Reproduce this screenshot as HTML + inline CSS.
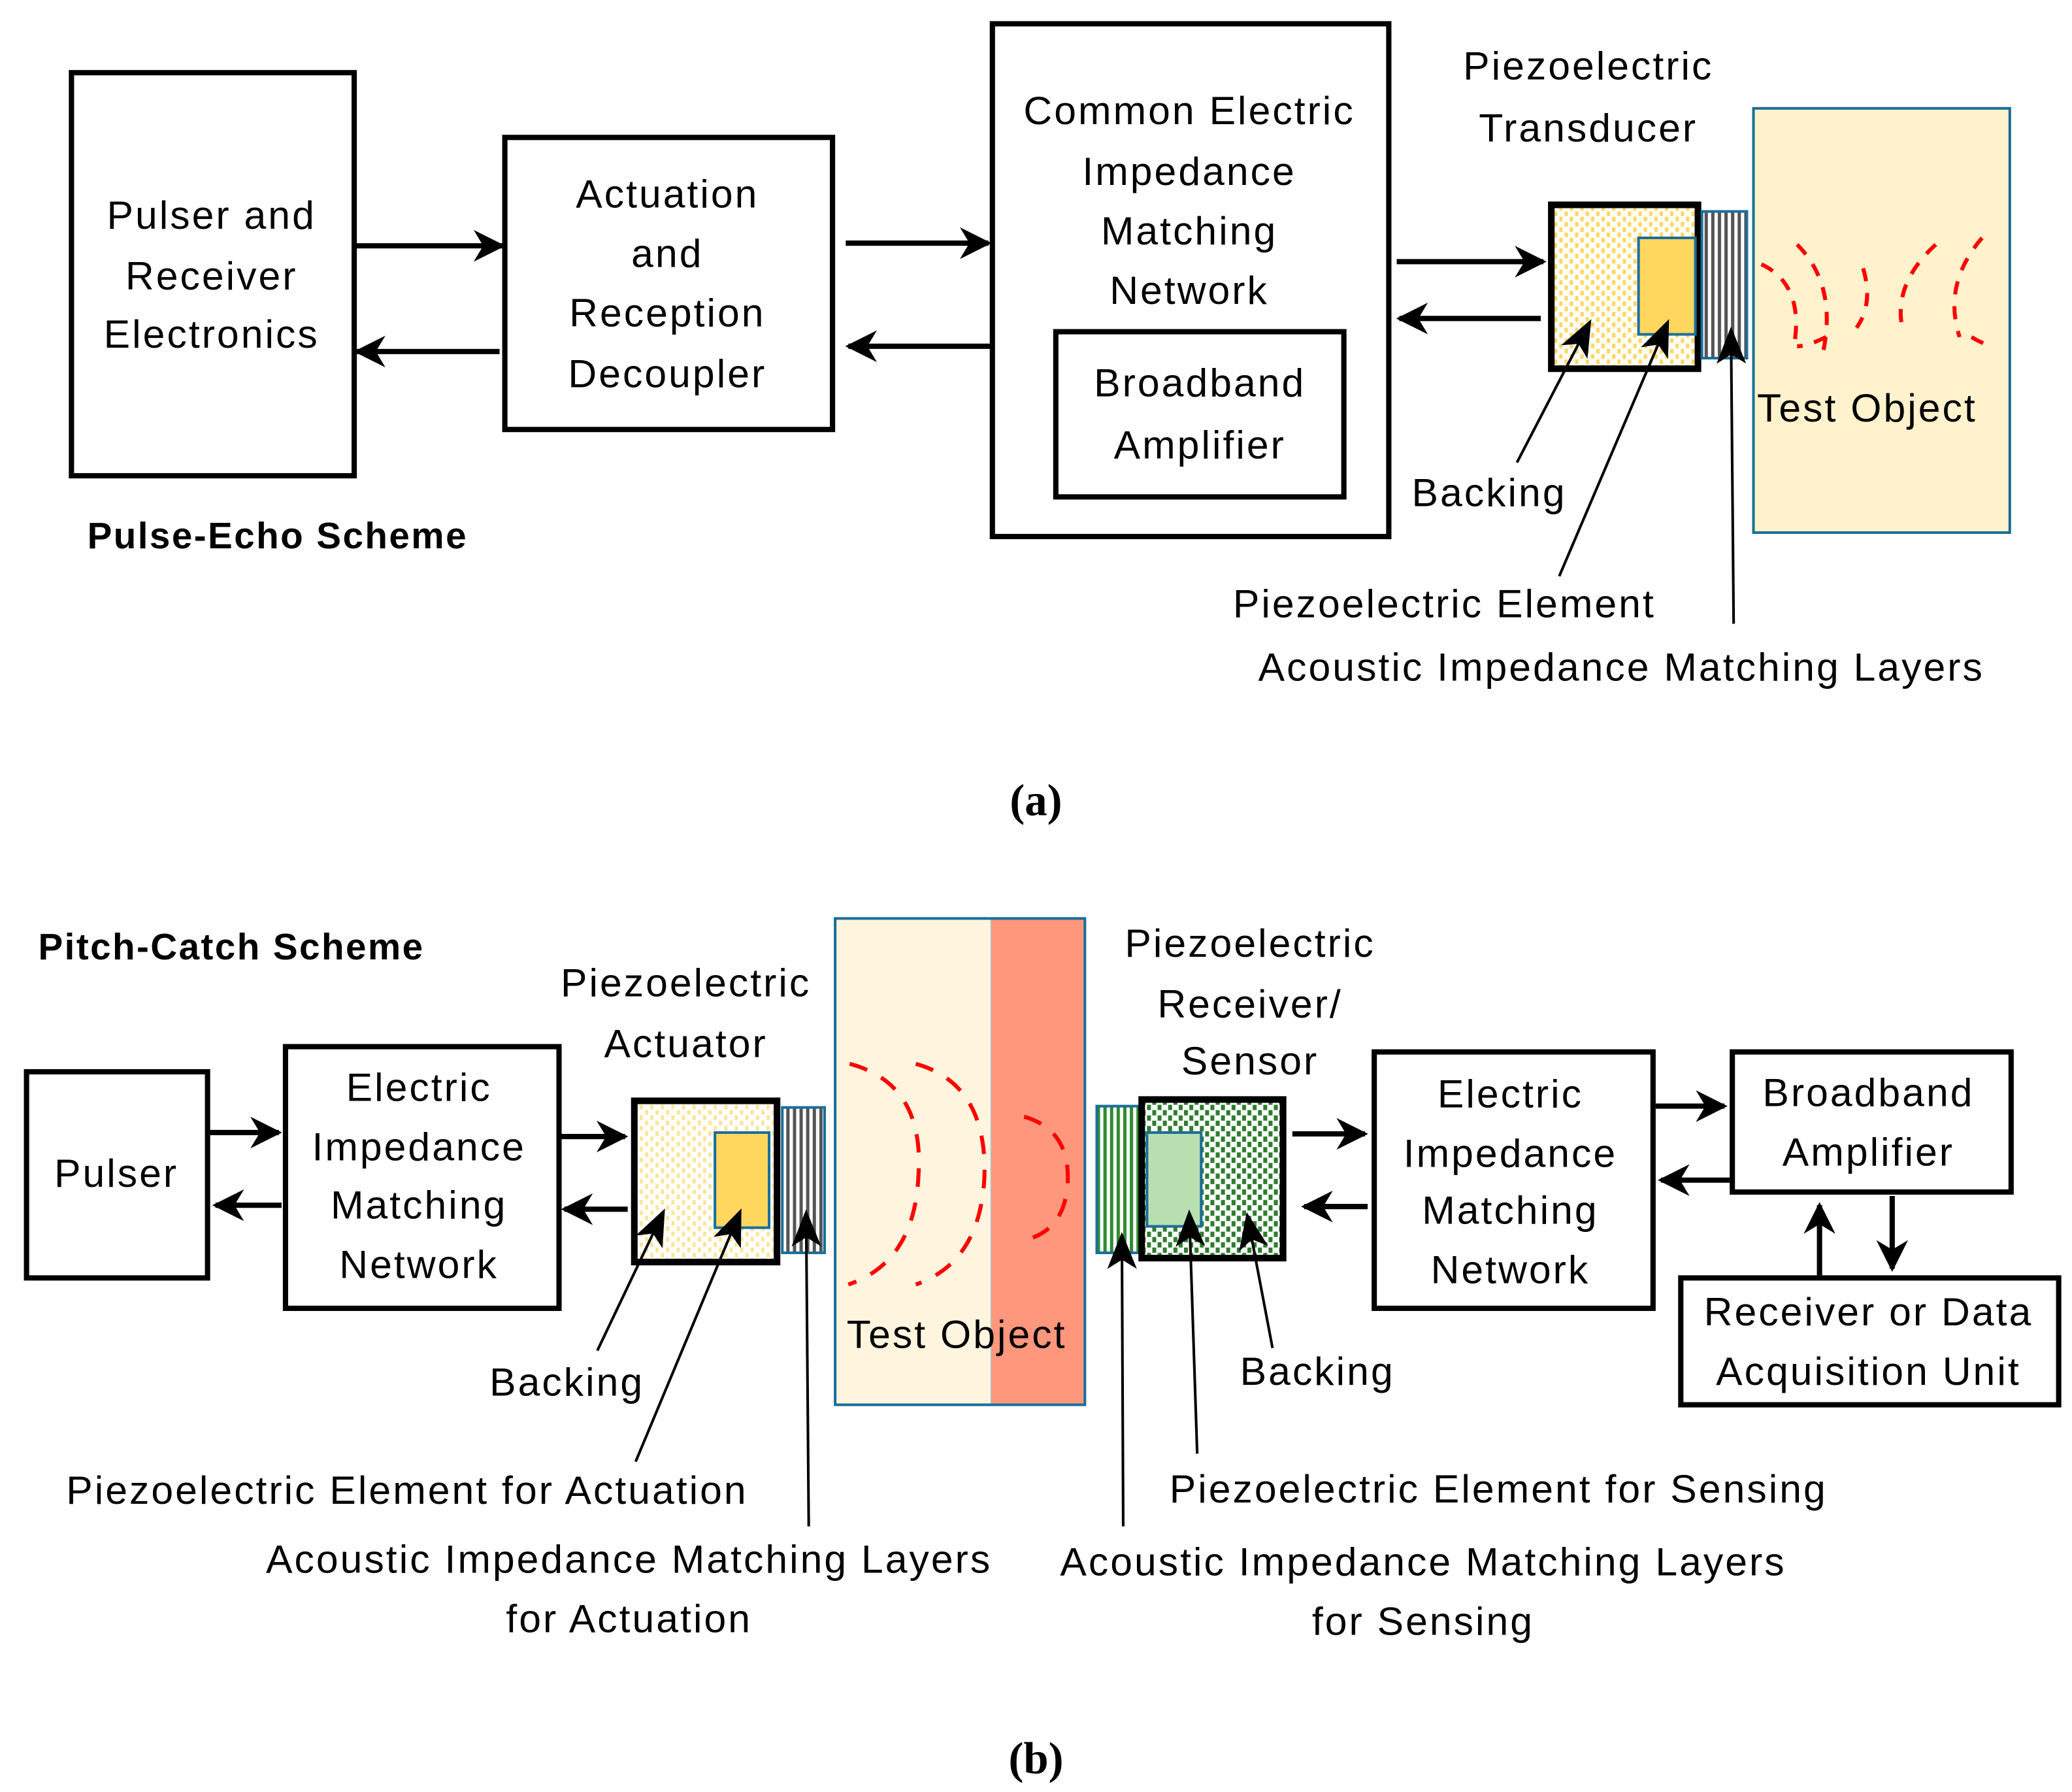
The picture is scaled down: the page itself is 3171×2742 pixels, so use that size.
<!DOCTYPE html>
<html><head><meta charset="utf-8"><style>
html,body{margin:0;padding:0;background:#fff}
svg{display:block}
text{font-family:"Liberation Sans",sans-serif;font-size:30px;letter-spacing:1.5px;fill:#000;text-anchor:middle}
.b{font-weight:bold;font-size:28px;letter-spacing:1.2px}
.s{font-family:"Liberation Serif",serif;font-weight:bold;font-size:34px;letter-spacing:0}
</style></head><body>
<svg width="3171" height="2742" viewBox="0 0 1568 1356" xmlns="http://www.w3.org/2000/svg">
<defs>
<marker id="ah" viewBox="0 0 20 20" refX="18" refY="10" markerWidth="6" markerHeight="6" markerUnits="strokeWidth" orient="auto">
<path d="M0,0 L20,10 L0,20 L6,10 z" fill="#000"/></marker>
<marker id="at" viewBox="0 0 20 20" refX="18" refY="10" markerWidth="14" markerHeight="14" markerUnits="strokeWidth" orient="auto">
<path d="M0,2 L20,10 L0,18 L5,10 z" fill="#000"/></marker>
<pattern id="yd" width="8" height="8" patternUnits="userSpaceOnUse">
<rect width="8" height="8" fill="#fff"/><rect x="0" y="0" width="2.5" height="3.5" fill="#FFD75E"/><rect x="4" y="4" width="2.5" height="3.5" fill="#FFD75E"/></pattern>
<pattern id="yd2" width="8" height="8" patternUnits="userSpaceOnUse">
<rect width="8" height="8" fill="#fff"/><rect x="0" y="0" width="2.5" height="3.5" fill="#FFE49A"/><rect x="4" y="4" width="2.5" height="3.5" fill="#FFE49A"/></pattern>
<pattern id="gd" width="8" height="8" patternUnits="userSpaceOnUse">
<rect width="8" height="8" fill="#fff"/><rect x="0" y="0" width="3" height="4" fill="#2E7D2E"/><rect x="4" y="4" width="3" height="4" fill="#2E7D2E"/></pattern>
<pattern id="gs" width="5" height="5" patternUnits="userSpaceOnUse">
<rect width="5" height="5" fill="#fff"/><rect width="2.5" height="5" fill="#555"/></pattern>
<pattern id="gg" width="5" height="5" patternUnits="userSpaceOnUse">
<rect width="5" height="5" fill="#fff"/><rect width="2.5" height="5" fill="#2E8B2E"/></pattern>
</defs>

<!-- (a) -->
<rect x="54" y="55" width="214" height="305" fill="none" stroke="#000" stroke-width="4"/>
<text x="160" y="173">Pulser and</text><text x="160" y="219">Receiver</text><text x="160" y="263">Electronics</text>
<g stroke="#000" stroke-width="4" fill="none">
<line x1="268" y1="186" x2="380" y2="186" marker-end="url(#ah)"/>
<line x1="378" y1="266" x2="270" y2="266" marker-end="url(#ah)"/>
<line x1="640" y1="184" x2="748" y2="184" marker-end="url(#ah)"/>
<line x1="750" y1="262" x2="642" y2="262" marker-end="url(#ah)"/>
<line x1="1057" y1="198" x2="1168" y2="198" marker-end="url(#ah)"/>
<line x1="1166" y1="241" x2="1059" y2="241" marker-end="url(#ah)"/>
</g>
<rect x="382" y="104" width="248" height="221" fill="none" stroke="#000" stroke-width="4"/>
<text x="505" y="157">Actuation</text><text x="505" y="202">and</text><text x="505" y="247">Reception</text><text x="505" y="293">Decoupler</text>
<rect x="751" y="18" width="300" height="388" fill="none" stroke="#000" stroke-width="4"/>
<text x="900" y="94">Common Electric</text><text x="900" y="140">Impedance</text><text x="900" y="185">Matching</text><text x="900" y="230">Network</text>
<rect x="799" y="251" width="218" height="125" fill="none" stroke="#000" stroke-width="4"/>
<text x="908" y="300">Broadband</text><text x="908" y="347">Amplifier</text>

<text x="1202" y="60">Piezoelectric</text><text x="1202" y="107">Transducer</text>
<rect x="1327" y="82" width="194" height="321" fill="#FFF2CC" stroke="#1a6e99" stroke-width="2"/>
<rect x="1174" y="155" width="111" height="124" fill="url(#yd)" stroke="#000" stroke-width="5"/>
<rect x="1240" y="180" width="43" height="73" fill="#FFD75E" stroke="#1a6e99" stroke-width="2"/>
<rect x="1288" y="160" width="34" height="111" fill="url(#gs)" stroke="#1a6e99" stroke-width="2"/>
<g fill="none" stroke="#f00" stroke-width="3" stroke-dasharray="10,9">
<path d="M1333,200 Q1365,215 1358,260"/>
<path d="M1360,185 Q1390,215 1380,265"/>
<path d="M1410,203 Q1418,230 1405,248"/>
<path d="M1465,185 Q1432,215 1440,250"/>
<path d="M1500,180 Q1470,215 1483,255"/>
<path d="M1382,255 Q1368,262 1360,262"/>
<path d="M1492,255 Q1500,260 1508,262"/>
</g>
<text x="1413" y="319">Test Object</text>
<g stroke="#000" stroke-width="2" fill="none">
<line x1="1148" y1="350" x2="1203" y2="244" marker-end="url(#at)"/>
<line x1="1180" y1="436" x2="1262" y2="244" marker-end="url(#at)"/>
<line x1="1312" y1="472" x2="1310" y2="250" marker-end="url(#at)"/>
</g>
<text x="1127" y="383">Backing</text>
<text x="1093" y="467">Piezoelectric Element</text>
<text x="1227" y="515">Acoustic Impedance Matching Layers</text>
<text x="210" y="415" class="b">Pulse-Echo Scheme</text>
<text x="784" y="617" class="s">(a)</text>

<!-- (b) -->
<text x="175" y="726" class="b">Pitch-Catch Scheme</text>
<rect x="20" y="811" width="137" height="156" fill="none" stroke="#000" stroke-width="4"/>
<text x="88" y="898">Pulser</text>
<g stroke="#000" stroke-width="4" fill="none">
<line x1="157" y1="857" x2="211" y2="857" marker-end="url(#ah)"/>
<line x1="213" y1="912" x2="163" y2="912" marker-end="url(#ah)"/>
<line x1="423" y1="860" x2="473" y2="860" marker-end="url(#ah)"/>
<line x1="475" y1="915" x2="427" y2="915" marker-end="url(#ah)"/>
<line x1="978" y1="858" x2="1033" y2="858" marker-end="url(#ah)"/>
<line x1="1035" y1="913" x2="987" y2="913" marker-end="url(#ah)"/>
<line x1="1253" y1="837" x2="1305" y2="837" marker-end="url(#ah)"/>
<line x1="1309" y1="893" x2="1257" y2="893" marker-end="url(#ah)"/>
<line x1="1377" y1="965" x2="1377" y2="912" marker-end="url(#ah)"/>
<line x1="1432" y1="905" x2="1432" y2="960" marker-end="url(#ah)"/>
</g>
<rect x="216" y="792" width="207" height="198" fill="none" stroke="#000" stroke-width="4"/>
<text x="317" y="833">Electric</text><text x="317" y="878">Impedance</text><text x="317" y="922">Matching</text><text x="317" y="967">Network</text>
<text x="519" y="754">Piezoelectric</text><text x="519" y="800">Actuator</text>
<rect x="632" y="695" width="118" height="368" fill="#FFF5DF"/>
<rect x="750" y="695" width="71" height="368" fill="#FF977D"/>
<line x1="750" y1="695" x2="750" y2="1063" stroke="#bbb" stroke-width="1"/>
<rect x="632" y="695" width="189" height="368" fill="none" stroke="#1a6e99" stroke-width="2"/>
<g fill="none" stroke="#f00" stroke-width="3" stroke-dasharray="14,12">
<path d="M643,805 Q700,820 695,890 Q692,955 642,972"/>
<path d="M693,805 Q747,820 745,890 Q742,955 693,972"/>
<path d="M775,845 Q810,855 808,895 Q806,930 777,938"/>
</g>
<text x="724" y="1020">Test Object</text>
<rect x="480" y="833" width="108" height="122" fill="url(#yd2)" stroke="#000" stroke-width="5"/>
<rect x="541" y="857" width="41" height="72" fill="#FFD75E" stroke="#1a6e99" stroke-width="2"/>
<rect x="592" y="838" width="32" height="110" fill="url(#gs)" stroke="#1a6e99" stroke-width="2"/>
<rect x="830" y="837" width="34" height="111" fill="url(#gg)" stroke="#1a6e99" stroke-width="2"/>
<rect x="864" y="832" width="107" height="120" fill="url(#gd)" stroke="#000" stroke-width="5"/>
<rect x="868" y="857" width="41" height="71" fill="#B9DFB0" stroke="#1a6e99" stroke-width="2"/>
<text x="946" y="724">Piezoelectric</text><text x="946" y="770">Receiver/</text><text x="946" y="813">Sensor</text>
<rect x="1040" y="796" width="211" height="194" fill="none" stroke="#000" stroke-width="4"/>
<text x="1143" y="838">Electric</text><text x="1143" y="883">Impedance</text><text x="1143" y="926">Matching</text><text x="1143" y="971">Network</text>
<rect x="1311" y="796" width="211" height="106" fill="none" stroke="#000" stroke-width="4"/>
<text x="1414" y="837">Broadband</text><text x="1414" y="882">Amplifier</text>
<rect x="1272" y="967" width="286" height="96" fill="none" stroke="#000" stroke-width="4"/>
<text x="1414" y="1003">Receiver or Data</text><text x="1414" y="1048">Acquisition Unit</text>
<g stroke="#000" stroke-width="2" fill="none">
<line x1="452" y1="1022" x2="502" y2="917" marker-end="url(#at)"/>
<line x1="481" y1="1106" x2="560" y2="917" marker-end="url(#at)"/>
<line x1="612" y1="1155" x2="610" y2="918" marker-end="url(#at)"/>
<line x1="963" y1="1020" x2="944" y2="920" marker-end="url(#at)"/>
<line x1="906" y1="1100" x2="900" y2="918" marker-end="url(#at)"/>
<line x1="850" y1="1155" x2="849" y2="935" marker-end="url(#at)"/>
</g>
<text x="429" y="1056">Backing</text>
<text x="308" y="1138">Piezoelectric Element for Actuation</text>
<text x="476" y="1190">Acoustic Impedance Matching Layers</text>
<text x="476" y="1235">for Actuation</text>
<text x="997" y="1048">Backing</text>
<text x="1134" y="1137">Piezoelectric Element for Sensing</text>
<text x="1077" y="1192">Acoustic Impedance Matching Layers</text>
<text x="1077" y="1237">for Sensing</text>
<text x="784" y="1342" class="s">(b)</text>
</svg>
</body></html>
